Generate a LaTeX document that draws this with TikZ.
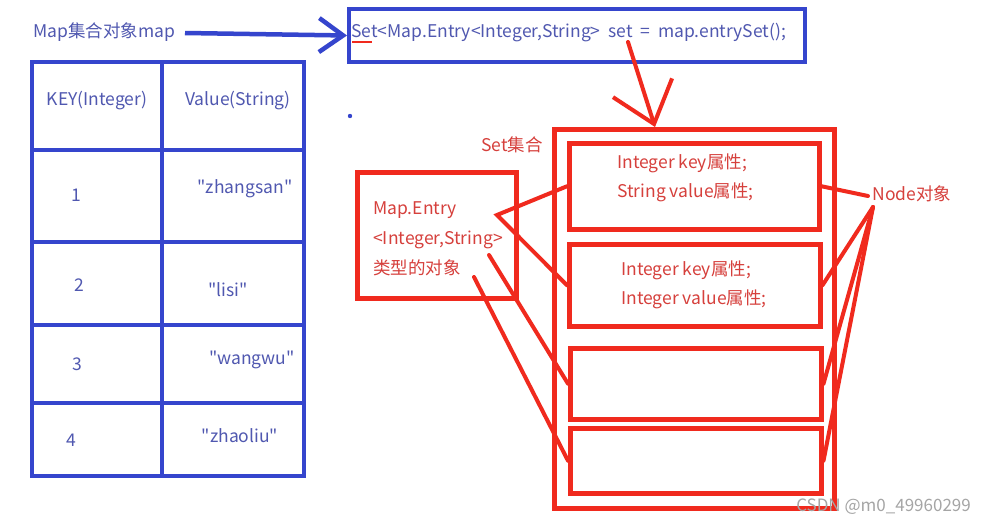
\documentclass[tikz,border=0pt]{standalone}
\usepackage{fontspec}
\newfontfamily\cjk{Noto Sans CJK SC}
\usetikzlibrary{arrows.meta}
\definecolor{bline}{RGB}{53,69,205}
\definecolor{btext}{RGB}{80,88,176}
\definecolor{rline}{RGB}{240,42,30}
\definecolor{rtext}{RGB}{214,64,60}
\definecolor{wm}{RGB}{165,165,165}
\begin{document}
\begin{tikzpicture}[x=1pt,y=-1pt,
  bbox/.style={draw=bline,line width=4pt,inner sep=0,anchor=north west},
  rbox/.style={draw=rline,line width=4.5pt,inner sep=0,anchor=north west},
  bl/.style={draw=bline,line width=4pt},
  rl/.style={draw=rline,line width=4pt,line cap=round},
  bt/.style={text=btext,inner sep=0,font=\cjk\fontsize{17.5}{20}\selectfont},
  rt/.style={text=rtext,inner sep=0,font=\cjk\fontsize{17.5}{20}\selectfont}]
\useasboundingbox (0,0) rectangle (986,525);
\fill[white] (0,0) rectangle (986,525);
% top label and code box
\node[bt] (lab) at (104,32) {Map集合对象map};
\node[bbox,minimum width=456pt,minimum height=53pt] (code) at (347,7) {};
\node[bt,anchor=west] (codetxt) at (351,33) {Set<Map.Entry<Integer,String>\ \ set\ \ =\ \ map.entrySet();};
\coordinate (ulA) at (352,42);
\coordinate (ulB) at (372,42);
\draw[draw=rline,line width=2.5pt] (ulA) -- (ulB);
\draw[bl,line width=4.5pt,-{Straight Barb[length=24pt,width=34pt]}] (185,33) -- (code.west);
\fill[bline] (350,116) circle (2.2);
% table
\node[bbox,minimum width=272pt,minimum height=414pt] (tab) at (30,60) {};
\coordinate (c1t) at (162,60);
\coordinate (c1b) at (162,474);
\draw[bl] (c1t) -- (c1b);
\foreach \y in {150,242,325,403}{\draw[bl] (30,\y) -- (303,\y);}
\node[bt] (h1) at (97,101) {KEY(Integer)};
\node[bt] (h2) at (238,101) {Value(String)};
\node[bt] (k1) at (76,195) {1};
\node[bt] (v1) at (245,189) {"zhangsan"};
\node[bt] (k2) at (79,285) {2};
\node[bt] (v2) at (228,290) {"lisi"};
\node[bt] (k3) at (77,364) {3};
\node[bt] (v3) at (252,360) {"wangwu"};
\node[bt] (k4) at (71,440) {4};
\node[bt] (v4) at (240,436) {"zhaoliu"};
% set structure
\node[rbox,minimum width=280pt,minimum height=379pt] (setbox) at (552,127) {};
\node[rbox,minimum width=250pt,minimum height=86pt] (b1) at (567,141) {};
\node[rbox,minimum width=251pt,minimum height=82pt] (b2) at (567,242) {};
\node[rbox,minimum width=251pt,minimum height=71pt] (b3) at (568,346) {};
\node[rbox,minimum width=251pt,minimum height=65pt] (b4) at (568,426) {};
\node[rt] (setlab) at (512,145) {Set集合};
\node[rt,anchor=west] (t11) at (617,163) {Integer key属性;};
\node[rt,anchor=west] (t12) at (617,192) {String value属性;};
\node[rt,anchor=west] (t21) at (621,270) {Integer key属性;};
\node[rt,anchor=west] (t22) at (621,299) {Integer value属性;};
% arrow from code to set
\coordinate (sA) at (628,42);
\coordinate (sTop) at (655,127);
\draw[rl,-{Straight Barb[length=38pt,width=62pt]}] (sA) -- (sTop);
% Map.Entry box
\node[rbox,minimum width=159pt,minimum height=126pt] (me) at (355,170) {};
\node[rt,anchor=west] (me1) at (373,210) {Map.Entry};
\node[rt,anchor=west] (me2) at (373,240) {<Integer,String>};
\node[rt,anchor=west] (me3) at (373,268) {类型的对象};
\coordinate (m1) at (497,215);
\coordinate (m2) at (489,255);
\coordinate (m3) at (474,277);
\draw[rl] (b1.west) -- (m1) -- (b2.west);
\draw[rl] (m2) -- (b3.west);
\draw[rl] (m3) -- (b4.west);
% Node label
\node[rt] (nodelab) at (912,194) {Node对象};
\coordinate (n0) at (868,196);
\coordinate (n1) at (873,207);
\draw[rl] (b1.east) -- (n0);
\draw[rl] (b2.east) -- (n1);
\draw[rl] (b3.east) -- (n1);
\draw[rl] (b4.east) -- (n1);
% watermark
\node[text=wm,inner sep=0,anchor=east,font=\cjk\fontsize{17}{19}\selectfont] (wmk) at (971,507) {CSDN @m0\_49960299};
\end{tikzpicture}
\end{document}
